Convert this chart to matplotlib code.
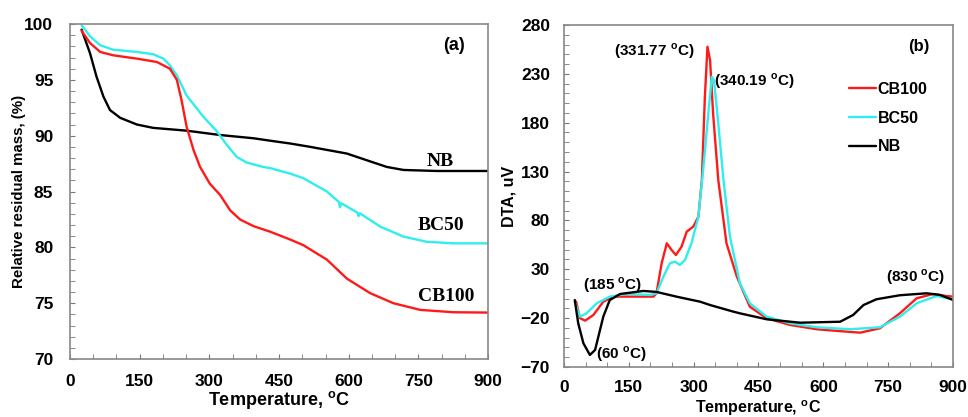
import matplotlib
matplotlib.use("Agg")
import matplotlib.pyplot as plt
from matplotlib.ticker import MultipleLocator, FixedLocator

plt.rcParams['font.family'] = ['Liberation Sans', 'DejaVu Sans']
plt.rcParams['font.weight'] = 'bold'
plt.rcParams['mathtext.fontset'] = 'custom'
plt.rcParams['mathtext.rm'] = 'Liberation Sans:bold'
plt.rcParams['mathtext.bf'] = 'Liberation Sans:bold'

# TGA data (a)
tga_nb_t = [25, 43, 57, 72, 86, 108, 144, 179, 251, 323, 395, 431, 474, 517, 596, 646, 682, 718, 789, 900]
tga_nb_v = [99.5, 97.4, 95.3, 93.5, 92.3, 91.6, 91.0, 90.7, 90.45, 90.06, 89.77, 89.55, 89.3, 89.0, 88.4,
            87.7, 87.2, 86.93, 86.84, 86.84]

tga_bc50_t = [25, 43, 65, 93, 144, 179, 201, 215, 230, 251, 287, 316, 337, 359, 380, 416, 431, 474, 502,
              553, 579, 581, 584, 619, 621, 624, 668, 718, 768, 826, 900]
tga_bc50_v = [99.9, 98.9, 98.1, 97.7, 97.5, 97.3, 96.9, 96.3, 95.4, 93.6, 91.7, 90.4, 89.2, 88.1, 87.6,
              87.2, 87.1, 86.6, 86.2, 85.0, 84.05, 83.6, 83.95, 83.1, 82.8, 83.05, 81.85, 80.96, 80.5,
              80.36, 80.36]

tga_cb100_t = [25, 43, 65, 93, 144, 187, 215, 230, 240, 251, 266, 280, 301, 323, 345, 366, 395, 431, 474,
               502, 553, 596, 646, 696, 754, 826, 900]
tga_cb100_v = [99.4, 98.3, 97.5, 97.2, 96.9, 96.6, 96.0, 95.0, 93.2, 90.8, 88.7, 87.2, 85.7, 84.7, 83.3,
               82.5, 81.9, 81.4, 80.7, 80.2, 78.9, 77.2, 75.9, 75.0, 74.4, 74.19, 74.16]

# DTA data (b)
dta_cb100_t = [28, 37, 49, 68, 91, 114, 207, 214, 226, 238, 249, 259, 272, 284, 299, 311, 319, 326, 332,
               338, 345, 357, 376, 400, 430, 469, 523, 585, 623, 685, 731, 777, 816, 854, 885, 900]
dta_cb100_v = [-3, -20, -22.6, -16.8, -3.2, 2.0, 2.0, 5.4, 36.1, 56.6, 49.7, 44.6, 53.1, 68.5, 73.6, 83.8,
               121.4, 206.6, 257.8, 244.2, 189.6, 121.4, 56.6, 22.4, -8.3, -20.2, -27, -31.4, -32.8,
               -34.9, -30.4, -15.1, 0.3, 4.7, 2.6, 2]

dta_bc50_t = [25, 37, 52, 76, 106, 145, 199, 214, 230, 245, 257, 268, 280, 295, 311, 322, 334, 342, 347,
              357, 369, 384, 407, 430, 469, 523, 585, 662, 731, 777, 816, 862, 900]
dta_bc50_v = [-3.2, -18.5, -15.1, -4.8, 2.0, 4.7, 3.7, 5.4, 22.4, 36.1, 37.8, 34.4, 39.5, 56.6, 83.8,
              131.6, 189.6, 227.1, 223.7, 179.4, 121.4, 63.4, 15.6, -4.8, -18.5, -25.3, -29.4, -31.4,
              -29.4, -18.5, -4.8, 2.6, -0.7]

dta_nb_t = [25, 33, 45, 60, 72, 91, 106, 130, 184, 214, 261, 315, 338, 392, 407, 469, 546, 639, 669, 693,
            723, 777, 839, 870, 900]
dta_nb_v = [-1.5, -25.3, -45.8, -57.7, -52.6, -18.5, -1.5, 4.7, 7.8, 6.8, 1.9, -3.2, -6.6, -13.4, -15.1,
            -21.2, -24.7, -23.7, -16.8, -6.6, -0.7, 3.4, 5.4, 3.7, -1.4]

DEG = r'$^{\mathrm{o}}$'
RED = '#ff1a1a'
CYAN = '#2eeeee'

fig = plt.figure(figsize=(9.68, 4.17), dpi=100)
ax1 = fig.add_axes([0.0723, 0.139, 0.432, 0.8034])
ax2 = fig.add_axes([0.5826, 0.12, 0.4019, 0.82])

for ax in (ax1, ax2):
  for sp in ax.spines.values():
    sp.set_color('#888888')
    sp.set_linewidth(1.2)
  ax.tick_params(which='both', direction='in', length=3.5, color='#777777', labelsize=12.5)
  ax.xaxis.set_major_locator(MultipleLocator(150))
  ax.xaxis.set_minor_locator(MultipleLocator(50))
  ax.set_xlim(0, 900)

line_kw = dict(lw=1.7, solid_joinstyle='round', solid_capstyle='round')

# (a) TGA
ax1.plot(tga_nb_t, tga_nb_v, color='black', **line_kw)
ax1.plot(tga_bc50_t, tga_bc50_v, color=CYAN, **line_kw)
ax1.plot(tga_cb100_t, tga_cb100_v, color=RED, **line_kw)
ax1.set_ylim(70, 100)
ax1.yaxis.set_major_locator(MultipleLocator(5))
ax1.yaxis.set_minor_locator(MultipleLocator(1))
ax1.tick_params(axis='y', which='both', pad=12)
ax1.tick_params(axis='x', which='both', pad=11)
ax1.set_xlabel('Temperature, ' + DEG + 'C', fontsize=13, fontweight='bold', labelpad=0)
ax1.set_ylabel('Relative residual mass, (%)', fontsize=10.8, fontweight='bold', labelpad=-1)
serif = dict(family='Liberation Serif', fontweight='bold', fontsize=14, ha='center', va='center')
ax1.text(797, 87.7, 'NB', **serif)
ax1.text(799, 82.0, 'BC50', **serif)
ax1.text(810, 75.6, 'CB100', **serif)
ax1.text(827, 98.1, '(a)', ha='center', va='center', fontsize=13, fontweight='bold')

# (b) DTA
ax2.plot(dta_cb100_t, dta_cb100_v, color=RED, label='CB100', **line_kw)
ax2.plot(dta_bc50_t, dta_bc50_v, color=CYAN, label='BC50', **line_kw)
ax2.plot(dta_nb_t, dta_nb_v, color='black', label='NB', **line_kw)
ax2.set_ylim(-70, 280)
ax2.yaxis.set_major_locator(FixedLocator(list(range(-70, 281, 50))))
ax2.yaxis.set_minor_locator(FixedLocator(list(range(-70, 281, 10))))
ax2.tick_params(axis='y', which='both', pad=10)
ax2.tick_params(axis='x', which='both', pad=9.5)
ax2.set_xlabel('Temperature, ' + DEG + 'C', fontsize=11.5, fontweight='bold', labelpad=2)
ax2.set_ylabel('DTA, uV', fontsize=11.5, fontweight='bold', labelpad=3)
ann = dict(fontsize=11, fontweight='bold', ha='center', va='center')
ax2.text(208, 253, '(331.77 ' + DEG + 'C)', **ann)
ax2.text(441, 223, '(340.19 ' + DEG + 'C)', **ann)
ax2.text(113, 14, '(185 ' + DEG + 'C)', **ann)
ax2.text(134, -57, '(60 ' + DEG + 'C)', **ann)
ax2.text(813, 22, '(830 ' + DEG + 'C)', **ann)
ax2.text(822, 258, '(b)', fontsize=12, fontweight='bold', ha='center', va='center')
ax2.legend(loc='upper left', bbox_to_anchor=(0.715, 0.852), frameon=False, fontsize=11.5,
           handlelength=1.75, handletextpad=0.08, labelspacing=0.85, borderaxespad=0)

fig.savefig('out.png', dpi=100)
